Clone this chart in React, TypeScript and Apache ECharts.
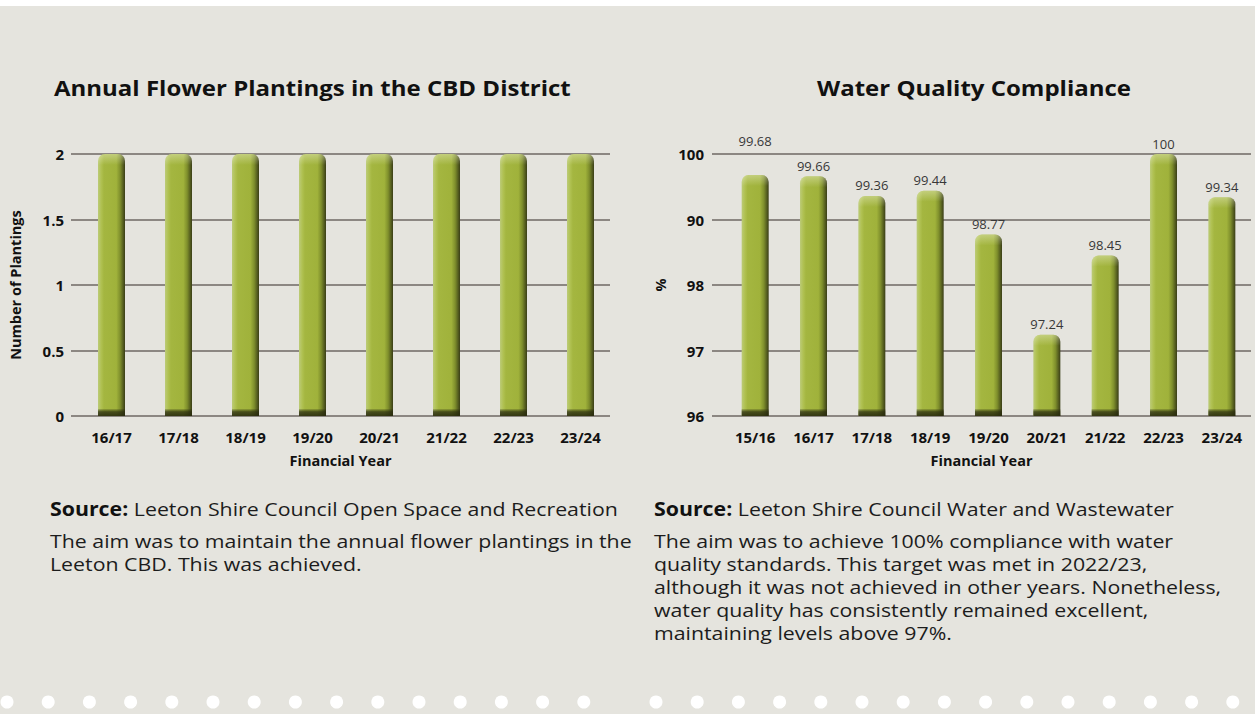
import React, { useEffect, useRef } from "react";
import * as echarts from "echarts";

// ---- Data ----
const leftTitle = "Annual Flower Plantings in the CBD District";
const leftCategories = ["16/17", "17/18", "18/19", "19/20", "20/21", "21/22", "22/23", "23/24"];
const leftValues = [2, 2, 2, 2, 2, 2, 2, 2];
const leftYTicks = ["0", "0.5", "1", "1.5", "2"];
const leftYName = "Number of Plantings";

const rightTitle = "Water Quality Compliance";
const rightCategories = ["15/16", "16/17", "17/18", "18/19", "19/20", "20/21", "21/22", "22/23", "23/24"];
const rightValues = [99.68, 99.66, 99.36, 99.44, 98.77, 97.24, 98.45, 100, 99.34];
const rightYTicks = ["96", "97", "98", "90", "100"];
const rightYName = "%";

const xName = "Financial Year";

const leftSource = "Leeton Shire Council Open Space and Recreation";
const leftText = ["The aim was to maintain the annual flower plantings in the", "Leeton CBD. This was achieved."];
const rightSource = "Leeton Shire Council Water and Wastewater";
const rightText = [
  "The aim was to achieve 100% compliance with water",
  "quality standards. This target was met in 2022/23,",
  "although it was not achieved in other years. Nonetheless,",
  "water quality has consistently remained excellent,",
  "maintaining levels above 97%.",
];

const FONT = "Open Sans";
const BG = "#e5e4de";
const GRID_LINE = "#6e6863";

function barRender(yMin: number, showLabel: boolean, labelLift: Record<number, number>) {
  return (params: any, api: any) => {
    const idx = api.value(0);
    const val = api.value(1);
    const top = api.coord([idx, val]);
    const bot = api.coord([idx, yMin]);
    const w = 27;
    const x = top[0] - w / 2;
    const h = bot[1] - top[1];
    const children: any[] = [
      {
        type: "rect",
        shape: { x, y: top[1], width: w, height: h, r: [7, 7, 0, 0] },
        style: {
          fill: new echarts.graphic.LinearGradient(0, 0, 1, 0, [
            { offset: 0, color: "#bccb78" },
            { offset: 0.12, color: "#b0c152" },
            { offset: 0.22, color: "#a4b640" },
            { offset: 0.68, color: "#a0b23b" },
            { offset: 0.82, color: "#7f8f2c" },
            { offset: 1, color: "#3a3e17" },
          ]),
        },
      },
      {
        type: "rect",
        shape: { x, y: top[1], width: w, height: 11, r: [7, 7, 0, 0] },
        style: {
          fill: new echarts.graphic.LinearGradient(0, 0, 0, 1, [
            { offset: 0, color: "rgba(255,255,240,0.35)" },
            { offset: 1, color: "rgba(255,255,240,0)" },
          ]),
        },
      },
      {
        type: "rect",
        shape: { x, y: bot[1] - 7, width: w, height: 7 },
        style: {
          fill: new echarts.graphic.LinearGradient(0, 0, 0, 1, [
            { offset: 0, color: "rgba(40,42,14,0.15)" },
            { offset: 0.4, color: "rgba(40,42,14,0.75)" },
            { offset: 1, color: "rgba(40,42,14,0.9)" },
          ]),
        },
      },
    ];
    if (showLabel) {
      const lift = labelLift[params.dataIndex] || 0;
      children.push({
        type: "text",
        style: {
          text: String(rightValues[params.dataIndex]),
          x: top[0],
          y: top[1] - 4 - lift,
          align: "center",
          verticalAlign: "bottom",
          fontSize: 13,
          fontFamily: FONT,
          fill: "#383838",
        },
      });
    }
    return { type: "group", children };
  };
}

export default function App() {
  const ref = useRef<HTMLDivElement>(null);

  useEffect(() => {
    if (!ref.current) return;
    const chart = echarts.init(ref.current, null, { renderer: "svg" });

    const axisLabelStyle = { fontFamily: FONT, fontWeight: "bold" as const, fontSize: 15, color: "#111" };
    const nameStyle = { fontFamily: FONT, fontWeight: "bold" as const, fontSize: 14.5, color: "#111" };

    const dots: any[] = [];
    for (let i = 0; i < 15; i++) {
      dots.push({ type: "circle", shape: { cx: 7 + i * 41.2, cy: 702, r: 6.5 }, style: { fill: "#ffffff" } });
      dots.push({ type: "circle", shape: { cx: 656 + i * 41.2, cy: 702, r: 6.5 }, style: { fill: "#ffffff" } });
    }

    const TXT = 19;
    const SX = 1.122;
    const paraStyle = { fontFamily: FONT, fontSize: TXT, fill: "#1c1c1c", lineHeight: 23 };

    chart.setOption({
      animation: false,
      backgroundColor: "transparent",
      grid: [
        { left: 71, right: 1255 - 610, top: 154, bottom: 714 - 416 },
        { left: 78, right: 1255 - 614, top: 154, bottom: 714 - 416 },
        { left: 712, right: 4, top: 154, bottom: 714 - 416 },
        { left: 726, right: 4, top: 154, bottom: 714 - 416 },
      ],
      xAxis: [
        {
          gridIndex: 0, type: "value", min: 0, max: 1,
          axisLine: { show: false }, axisTick: { show: false }, axisLabel: { show: false }, splitLine: { show: false },
          name: xName, nameLocation: "middle", nameGap: 37, nameTextStyle: { ...nameStyle, verticalAlign: "top" },
        },
        {
          gridIndex: 1, type: "category", data: leftCategories,
          axisLine: { show: false }, axisTick: { show: false },
          axisLabel: { ...axisLabelStyle, margin: 13 },
        },
        {
          gridIndex: 2, type: "value", min: 0, max: 1,
          axisLine: { show: false }, axisTick: { show: false }, axisLabel: { show: false }, splitLine: { show: false },
          name: xName, nameLocation: "middle", nameGap: 37, nameTextStyle: { ...nameStyle, verticalAlign: "top" },
        },
        {
          gridIndex: 3, type: "category", data: rightCategories,
          axisLine: { show: false }, axisTick: { show: false },
          axisLabel: { ...axisLabelStyle, margin: 13 },
        },
      ],
      yAxis: [
        {
          gridIndex: 0, type: "value", min: 0, max: 2, interval: 0.5,
          axisLine: { show: false }, axisTick: { show: false },
          axisLabel: { ...axisLabelStyle, margin: 7, formatter: (_v: number, i: number) => leftYTicks[i] },
          splitLine: { show: true, lineStyle: { color: GRID_LINE, width: 1.5 } },
          name: leftYName, nameLocation: "middle", nameRotate: 90, nameGap: 48, nameTextStyle: nameStyle,
        },
        { gridIndex: 1, type: "value", min: 0, max: 2, show: false },
        {
          gridIndex: 2, type: "value", min: 96, max: 100, interval: 1,
          axisLine: { show: false }, axisTick: { show: false },
          axisLabel: { ...axisLabelStyle, margin: 8, formatter: (_v: number, i: number) => rightYTicks[i] },
          splitLine: { show: true, lineStyle: { color: GRID_LINE, width: 1.5 } },
          name: rightYName, nameLocation: "middle", nameRotate: 90, nameGap: 44, nameTextStyle: nameStyle,
        },
        { gridIndex: 3, type: "value", min: 96, max: 100, show: false },
      ],
      series: [
        {
          type: "custom", xAxisIndex: 1, yAxisIndex: 1,
          renderItem: barRender(0, false, {}),
          encode: { x: 0, y: 1 },
          data: leftValues.map((v, i) => [i, v]),
        },
        {
          type: "custom", xAxisIndex: 3, yAxisIndex: 3,
          renderItem: barRender(96, true, { 0: 23 }),
          encode: { x: 0, y: 1 },
          data: rightValues.map((v, i) => [i, v]),
        },
      ],
      graphic: [
        { type: "rect", z: -100, shape: { x: 0, y: 6, width: 1255, height: 708 }, style: { fill: BG }, silent: true },
        ...dots,
        {
          type: "text", x: 54, y: 88, scaleX: 1.143,
          style: { text: leftTitle, fontFamily: FONT, fontWeight: "bold", fontSize: 21, fill: "#111", verticalAlign: "middle" },
        },
        {
          type: "text", x: 974, y: 88, scaleX: 1.143,
          style: { text: rightTitle, fontFamily: FONT, fontWeight: "bold", fontSize: 21, fill: "#111", align: "center", verticalAlign: "middle" },
        },
        {
          type: "text", x: 50, y: 508, scaleX: SX,
          style: {
            text: "{b|Source:} " + leftSource,
            fontFamily: FONT, fontSize: TXT, fill: "#1c1c1c", verticalAlign: "middle",
            rich: { b: { fontFamily: FONT, fontWeight: "bold", fontSize: TXT, fill: "#111" } },
          },
        },
        {
          type: "text", x: 50, y: 529, scaleX: SX,
          style: { text: leftText.join("\n"), ...paraStyle, verticalAlign: "top" },
        },
        {
          type: "text", x: 654, y: 508, scaleX: SX,
          style: {
            text: "{b|Source:} " + rightSource,
            fontFamily: FONT, fontSize: TXT, fill: "#1c1c1c", verticalAlign: "middle",
            rich: { b: { fontFamily: FONT, fontWeight: "bold", fontSize: TXT, fill: "#111" } },
          },
        },
        {
          type: "text", x: 654, y: 529, scaleX: SX,
          style: { text: rightText.join("\n"), ...paraStyle, verticalAlign: "top" },
        },
      ],
    });

    return () => chart.dispose();
  }, []);

  return (
    <div style={{ position: "fixed", left: 0, top: 0, width: 1255, height: 714, background: "#ffffff" }}>
      <div ref={ref} style={{ width: 1255, height: 714 }} />
    </div>
  );
}
